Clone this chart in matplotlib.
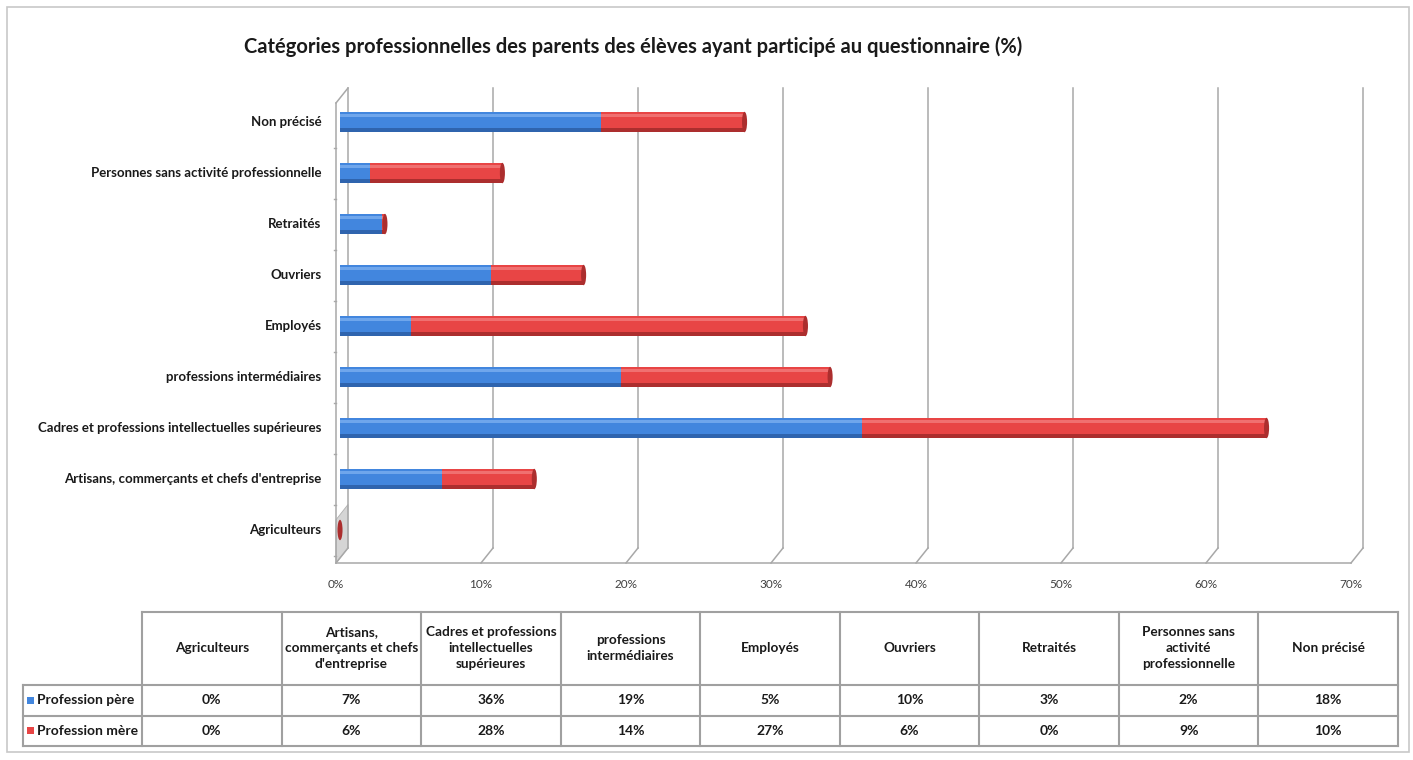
import matplotlib
matplotlib.use("Agg")
from matplotlib import pyplot as plt
from matplotlib.patches import Ellipse, Rectangle, Polygon
from matplotlib.transforms import offset_copy
import numpy as np

plt.rcParams['font.family'] = ['Lato', 'DejaVu Sans']

# Data (bottom to top, as in the chart)
categories = ["Agriculteurs",
              "Artisans, commerçants et chefs d'entreprise",
              "Cadres et professions intellectuelles supérieures",
              "professions intermédiaires",
              "Employés",
              "Ouvriers",
              "Retraités",
              "Personnes sans activité professionnelle",
              "Non précisé"]
table_headers = ["Agriculteurs",
                 "Artisans,\ncommerçants et chefs\nd'entreprise",
                 "Cadres et professions\nintellectuelles\nsupérieures",
                 "professions\nintermédiaires",
                 "Employés",
                 "Ouvriers",
                 "Retraités",
                 "Personnes sans\nactivité\nprofessionnelle",
                 "Non précisé"]
pere = [0.0, 7.0, 36.0, 19.4, 4.9, 10.4, 2.9, 2.1, 18.0]
mere = [0.0, 6.4, 27.9, 14.4, 27.2, 6.4, 0.2, 9.1, 9.9]
series_names = ["Profession père", "Profession mère"]
x_ticks = [0, 10, 20, 30, 40, 50, 60, 70]

blue, blue_dk, blue_lt = "#4286DE", "#2F64AE", "#6FA6EC"
red, red_dk, red_lt = "#E84545", "#AC2E2E", "#F07070"
grid_col = "#A8A8A8"
txt = "#1a1a1a"

W, H = 1413, 760
fig = plt.figure(figsize=(W / 100, H / 100), dpi=100)

# background / frame axes in pixel coords
bg = fig.add_axes([0, 0, 1, 1])
bg.set_xlim(0, W)
bg.set_ylim(H, 0)
bg.axis("off")
bg.add_patch(Rectangle((7, 7), 1402, 745, fill=False, ec="#C8C8C8", lw=1.2))

# main chart axes: front plane 0% at x=336, 70% at x=1351, y from 103 to 563
x0, x1, ytop, ybot = 336, 1351, 103, 563
ylo, yhi = -0.647, 8.373
ax = fig.add_axes([x0 / W, 1 - ybot / H, (x1 - x0) / W, (ybot - ytop) / H])
ax.set_xlim(0, 70)
ax.set_ylim(ylo, yhi)
ax.axis("off")

# 3D-ish back wall: gridlines offset right/up
dx, dy = 12, 15
ddx, ddy = dx / 14.5, dy / 51
back = offset_copy(ax.transData, fig=fig, x=dx, y=dy, units="dots")
for t in x_ticks:
    ax.plot([t, t], [ylo, yhi], color=grid_col, lw=1.1, transform=back, clip_on=False)
    ax.plot([t, t + ddx], [ylo, ylo + ddy], color=grid_col, lw=1.1, clip_on=False)
ax.plot([0, 70], [ylo, ylo], color=grid_col, lw=1.1, clip_on=False)
ax.plot([0, 0], [ylo, yhi], color=grid_col, lw=1.1, clip_on=False)
ax.plot([0, ddx], [yhi, yhi + ddy], color=grid_col, lw=1.1, clip_on=False)
for k in range(9):
    ax.plot([-0.15, 0], [k - 0.5, k - 0.5], color=grid_col, lw=1, clip_on=False)
# shading on the lower left wall
ax.add_patch(Polygon([[0, ylo], [ddx, ylo + ddy], [ddx, 0.5], [0, 0.2]],
                     closed=True, fc="#D5D5D5", ec="#B0B0B0", lw=0.6, clip_on=False))

# bars, shifted slightly into depth
bt = offset_copy(ax.transData, fig=fig, x=4, y=0, units="dots")
y = np.arange(len(categories))
h = 0.4
pere = np.array(pere)
mere = np.array(mere)
for left, vals, c, cd, cl in [(np.zeros(9), pere, blue, blue_dk, blue_lt),
                              (pere, mere, red, red_dk, red_lt)]:
    ax.barh(y, vals, left=left, height=h, color=c, transform=bt, zorder=3)
    ax.barh(y - h * 0.4, vals, left=left, height=h * 0.2, color=cd, transform=bt, zorder=3)
    ax.barh(y + h * 0.3, vals, left=left, height=h * 0.15, color=cl, transform=bt, zorder=3)
totals = pere + mere
for yi, tot, m in zip(y, totals, mere):
    col = red_dk if m > 0 or tot == 0 else blue_dk
    ax.add_patch(Ellipse((tot, yi), 0.35, h, fc=col, ec="none", transform=bt, zorder=4))

# category labels
for yi, lab in zip(y, categories):
    ax.text(-1.0, yi, lab, ha="right", va="center", fontsize=9.5, fontweight="bold", color=txt)
# tick labels
for t in x_ticks:
    ax.text(t, ylo - 0.42, f"{t}%", ha="center", va="center", fontsize=8.5, color="#404040")

# title
bg.text(633, 47, "Catégories professionnelles des parents des élèves ayant participé au questionnaire (%)",
        ha="center", va="center", fontsize=14.5, fontweight="bold", color=txt)

# data table
col_edges = np.linspace(142, 1398, 10)
t_top, t_head, t_r1, t_bot = 612, 685, 716, 746
lc = "#A0A0A0"
bg.plot([142, 1398], [t_top, t_top], color=lc, lw=1.5)
for yy in (t_head, t_r1, t_bot):
    bg.plot([23, 1398], [yy, yy], color=lc, lw=1.5)
bg.plot([23, 23], [t_head, t_bot], color=lc, lw=1.5)
for xe in col_edges:
    bg.plot([xe, xe], [t_top, t_bot], color=lc, lw=1.5)
centers = (col_edges[:-1] + col_edges[1:]) / 2
for cx, hd in zip(centers, table_headers):
    bg.text(cx, (t_top + t_head) / 2, hd, ha="center", va="center", fontsize=9.8,
            fontweight="bold", color=txt, linespacing=1.4)
for (ya, yb), name, vals, c in [((t_head, t_r1), series_names[0], pere, blue),
                                ((t_r1, t_bot), series_names[1], mere, red)]:
    yc = (ya + yb) / 2
    bg.add_patch(Rectangle((27, yc - 4), 7, 7, fc=c, ec="none"))
    bg.text(37, yc, name, ha="left", va="center", fontsize=10, fontweight="bold", color=txt)
    for cx, v in zip(centers, vals):
        bg.text(cx, yc, f"{int(round(v))}%", ha="center", va="center", fontsize=10,
                fontweight="bold", color=txt)

fig.savefig("out.png", dpi=100)
